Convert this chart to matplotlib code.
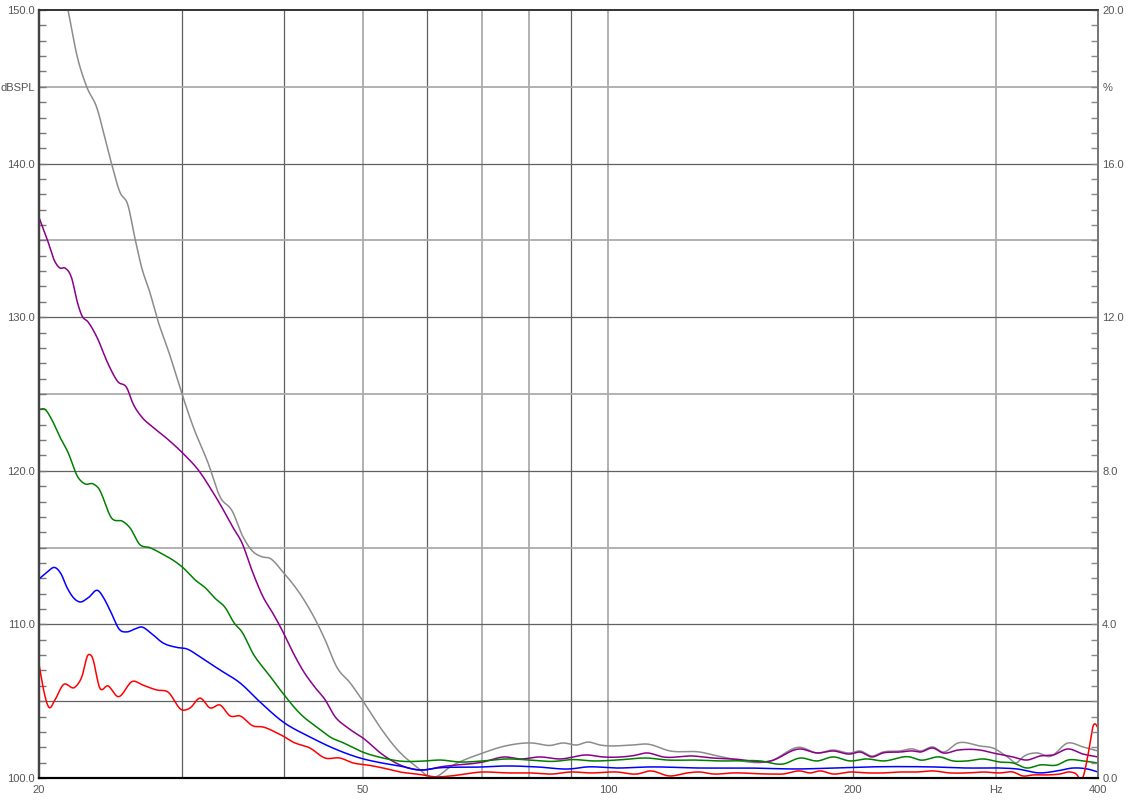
import numpy as np
import matplotlib
matplotlib.use("Agg")
import matplotlib.pyplot as plt
from matplotlib.ticker import FixedLocator, NullFormatter

# ---------------- data ----------------
gray_f = [20.0, 21.71, 22.26, 22.89, 23.56, 24.10, 24.58, 25.14, 25.72, 26.23, 26.75, 27.36, 27.91,
          28.97, 29.97, 30.92, 32.27, 33.38, 34.53, 35.62, 36.54, 37.59, 38.44, 39.89, 41.84, 43.91,
          44.92, 46.46, 48.21, 50.02, 52.49, 55.21, 58.43, 60.1, 61.31, 63.98, 70.20, 74.72, 80.66,
          84.88, 88.04, 91.6, 94.5, 97.77, 107.3, 111.7, 119.2, 129.7, 137.3, 158.2, 172.2, 180.7,
          189.0, 198.3, 204.0, 211.0, 217.7, 228.4, 237.0, 241.7, 250.8, 258.0, 269.2, 286.5, 297.2,
          309.2, 318.0, 323.5, 336.6, 349.3, 367.5, 383.4, 400.0]
gray_db = [157.5, 150.0, 147.07, 145.0, 143.62, 141.67, 139.91, 138.15, 137.3, 135.16, 133.2, 131.64,
           130.0, 127.5, 125.0, 122.9, 120.5, 118.3, 117.4, 115.7, 114.8, 114.4, 114.3, 113.4, 112.0,
           110.1, 109.0, 107.2, 106.2, 105.0, 103.3, 101.8, 100.65, 100.13, 100.07, 100.72, 101.63,
           102.08, 102.28, 102.12, 102.28, 102.15, 102.34, 102.15, 102.15, 102.21, 101.76, 101.69,
           101.4, 101.1, 102.0, 101.63, 101.82, 101.63, 101.76, 101.43, 101.69, 101.76, 101.89, 101.76,
           102.02, 101.69, 102.28, 102.08, 101.95, 101.4, 101.0, 101.37, 101.63, 101.4, 102.28, 102.02,
           101.76]

purple_f = [20.0, 20.46, 20.93, 21.22, 21.53, 21.95, 22.26, 22.58, 22.97, 23.56, 24.30, 25.0, 25.64,
            26.08, 26.75, 27.59, 28.72, 29.97, 31.54, 32.45, 33.57, 34.63, 35.52, 36.54, 37.69, 38.78,
            39.89, 40.91, 42.20, 43.66, 44.92, 46.20, 47.80, 50.02, 52.94, 55.53, 59.26, 62.18,
            70.20, 74.72, 77.96, 82.51, 87.30, 94.23, 98.60, 107.3, 111.7, 116.9, 127.3, 134.6, 142.5,
            158.2, 172.2, 180.7, 189.0, 198.3, 204.0, 211.0, 217.7, 228.4, 237.0, 241.7, 250.8, 258.0,
            269.2, 286.5, 297.2, 314.4, 327.2, 339.4, 352.3, 367.5, 383.4, 400.0]
purple_db = [136.5, 135.1, 133.6, 133.2, 133.2, 132.5, 131.1, 130.1, 129.7, 128.7, 127.0, 125.8, 125.4,
             124.4, 123.5, 122.85, 122.1, 121.2, 119.9, 118.9, 117.6, 116.3, 115.3, 113.5, 111.8, 110.7,
             109.5, 108.3, 107.0, 105.9, 105.1, 104.0, 103.3, 102.6, 101.5, 100.85, 100.52, 100.72,
             101.04, 101.37, 101.24, 101.37, 101.24, 101.5, 101.37, 101.45, 101.63, 101.37, 101.43,
             101.3, 101.24, 101.1, 101.89, 101.63, 101.76, 101.56, 101.69, 101.37, 101.63, 101.69,
             101.76, 101.69, 101.95, 101.63, 101.82, 101.82, 101.63, 101.37, 101.17, 101.43, 101.5,
             101.89, 101.56, 101.37]

green_f = [20.0, 20.34, 20.75, 21.22, 21.71, 22.32, 22.77, 23.30, 23.64, 24.58, 25.36, 25.86, 26.60,
           27.36, 28.31, 29.38, 30.05, 31.10, 31.99, 32.91, 33.86, 34.73, 35.52, 36.64, 38.23, 39.89,
           41.84, 43.91, 45.81, 47.26, 48.21, 49.60, 52.94, 55.53, 59.26, 62.18, 65.82, 70.20, 75.15,
           80.21, 85.60, 90.57, 95.86, 102.6, 111.7, 118.2, 127.3, 137.3, 153.8, 164.1, 172.2, 180.7,
           189.0, 198.3, 208.0, 217.7, 235.0, 241.7, 255.8, 265.4, 276.1, 288.9, 303.1, 314.4, 327.2,
           339.4, 356.3, 367.5, 383.4, 400.0]
green_db = [124.0, 124.0, 123.3, 122.2, 121.2, 119.6, 119.15, 119.15, 118.9, 116.9, 116.7, 116.3, 115.2,
            115.0, 114.6, 114.1, 113.7, 112.9, 112.4, 111.7, 111.1, 110.1, 109.5, 108.1, 106.8, 105.5,
            104.2, 103.3, 102.6, 102.3, 102.08, 101.76, 101.3, 101.1, 101.1, 101.17, 101.04, 101.11,
            101.24, 101.17, 101.08, 101.2, 101.11, 101.17, 101.3, 101.17, 101.17, 101.11, 101.11,
            100.91, 101.3, 101.11, 101.37, 101.11, 101.24, 101.11, 101.37, 101.17, 101.37, 101.11,
            101.11, 101.24, 101.04, 100.98, 100.65, 100.85, 100.85, 101.17, 101.11, 100.98]

blue_f = [20.0, 20.46, 20.93, 21.28, 21.65, 22.08, 22.45, 22.97, 23.64, 24.03, 24.44, 25.14, 25.64,
          26.23, 26.75, 27.36, 28.39, 29.55, 30.40, 31.54, 33.38, 35.32, 37.37, 39.89, 43.05, 45.94,
          49.60, 52.49, 55.53, 58.76, 61.65, 70.20, 74.30, 81.83, 89.80, 94.23, 102.6, 112.6, 129.7,
          148.2, 172.2, 189.0, 208.0, 250.8, 276.1, 303.1, 318.0, 339.4, 356.3, 372.7, 387.8, 400.0]
blue_db = [112.96, 113.4, 113.7, 113.3, 112.4, 111.7, 111.46, 111.72, 112.2, 111.7, 110.94, 109.64,
           109.51, 109.7, 109.83, 109.5, 108.8, 108.5, 108.4, 107.88, 107.03, 106.19, 104.95, 103.65,
           102.67, 101.95, 101.3, 101.0, 100.78, 100.52, 100.65, 100.72, 100.78, 100.72, 100.59,
           100.72, 100.65, 100.72, 100.65, 100.65, 100.59, 100.65, 100.72, 100.72, 100.65, 100.65,
           100.59, 100.33, 100.46, 100.65, 100.59, 100.39]

red_f = [20.0, 20.23, 20.57, 20.93, 21.40, 22.15, 22.58, 22.97, 23.23, 23.76, 24.30, 25.0, 26.08,
         26.83, 27.91, 28.80, 29.97, 30.66, 31.54, 32.45, 33.38, 34.34, 35.32, 36.64, 37.69, 39.22,
         39.89, 41.02, 43.05, 44.92, 46.86, 48.62, 50.59, 52.94, 55.53, 58.26, 61.65, 63.98, 70.20,
         75.15, 80.21, 85.60, 89.80, 95.04, 102.6, 108.6, 112.6, 119.2, 125.1, 129.7, 134.6, 142.5,
         156.8, 164.1, 172.2, 177.1, 182.2, 189.0, 198.3, 208.0, 217.7, 228.4, 239.7, 250.8, 263.1,
         276.1, 288.9, 303.1, 314.4, 323.5, 332.8, 346.4, 359.3, 369.6, 377.0, 380.2, 383.4, 387.8,
         392.2, 394.5, 396.7, 400.0]
red_db = [107.4, 105.9, 104.6, 105.1, 106.05, 105.92, 106.6, 108.0, 107.9, 105.85, 106.0, 105.3, 106.3,
          106.05, 105.73, 105.6, 104.43, 104.56, 105.2, 104.56, 104.75, 104.04, 104.04, 103.39, 103.32,
          102.93, 102.73, 102.34, 101.95, 101.3, 101.3, 100.98, 100.85, 100.65, 100.39, 100.26, 100.07,
          100.13, 100.39, 100.33, 100.33, 100.26, 100.39, 100.33, 100.39, 100.26, 100.46, 100.13,
          100.33, 100.39, 100.26, 100.33, 100.26, 100.26, 100.46, 100.33, 100.46, 100.26, 100.39,
          100.33, 100.33, 100.39, 100.39, 100.46, 100.33, 100.33, 100.39, 100.33, 100.39, 100.13,
          100.20, 100.20, 100.26, 100.39, 100.2, 99.93, 100.07, 101.17, 102.67, 103.39, 103.52, 103.26]

x_ticks = [20, 50, 100, 200, 300, 400]
x_labels = ["20", "50", "100", "200", "Hz", "400"]
y_ticks = [100, 110, 120, 130, 140, 145, 150]
y_labels = ["100.0", "110.0", "120.0", "130.0", "140.0", "dBSPL", "150.0"]
r_ticks = [0, 4, 8, 12, 16, 18, 20]
r_labels = ["0.0", "4.0", "8.0", "12.0", "16.0", "%", "20.0"]

series = [
    (gray_f, gray_db, "#8c8c8c"),
    (purple_f, purple_db, "#8b008b"),
    (green_f, green_db, "#008000"),
    (blue_f, blue_db, "#0000ff"),
    (red_f, red_db, "#ff0000"),
]


def smooth(f, v, n=16):
    """Cubic Hermite rendering of the read points in log-frequency space."""
    x = np.log10(np.asarray(f, float))
    y = np.asarray(v, float)
    m = np.gradient(y, x)
    xs, ys = [], []
    t = np.linspace(0, 1, n, endpoint=False)
    h00 = 2 * t**3 - 3 * t**2 + 1
    h10 = t**3 - 2 * t**2 + t
    h01 = -2 * t**3 + 3 * t**2
    h11 = t**3 - t**2
    for i in range(len(x) - 1):
        h = x[i + 1] - x[i]
        xs.append(x[i] + t * h)
        ys.append(h00 * y[i] + h10 * h * m[i] + h01 * y[i + 1] + h11 * h * m[i + 1])
    xs.append([x[-1]])
    ys.append([y[-1]])
    return 10 ** np.concatenate(xs), np.concatenate(ys)


W, H = 1127, 800
fig = plt.figure(figsize=(W / 100, H / 100), dpi=100)
fig.patch.set_facecolor("white")
L, R, T, B = 39, 1098, 10, 778
ax = fig.add_axes([L / W, 1 - B / H, (R - L) / W, (B - T) / H])
ax.set_xscale("log")
ax.set_xlim(20, 400)
ax.set_ylim(100, 150)

# grid lines (alternating dark / light like the reference)
dark, light = "#606060", "#ababab"
for fx, c in [(30, dark), (40, dark), (50, light), (60, dark), (70, light), (80, light),
              (90, dark), (100, light), (200, dark), (300, light)]:
    ax.axvline(fx, color=c, lw=1.3 if c == light else 0.9, zorder=1)
for hy, c in [(105, dark), (110, dark), (115, light), (120, dark), (125, light), (130, dark),
              (135, light), (140, dark), (145, light)]:
    ax.axhline(hy, color=c, lw=1.3 if c == light else 0.9, zorder=1)

for f, v, c in series:
    xs, ys = smooth(f, v)
    ax.plot(xs, ys, color=c, lw=1.1, zorder=3, solid_joinstyle="round")

tick_color = "#555555"
ax.xaxis.set_major_locator(FixedLocator(x_ticks))
ax.set_xticklabels(x_labels)
ax.xaxis.set_minor_locator(FixedLocator([]))
ax.xaxis.set_minor_formatter(NullFormatter())
ax.tick_params(axis="x", which="both", length=0, pad=5, labelsize=8, labelcolor=tick_color)

ax.set_yticks(y_ticks)
ax.set_yticklabels(y_labels)
ax.yaxis.set_minor_locator(FixedLocator(np.arange(100, 151, 1)))
ax.tick_params(axis="y", which="major", direction="in", length=5, width=1, color="#777777",
               pad=3, labelsize=8, labelcolor=tick_color)
ax.tick_params(axis="y", which="minor", direction="in", length=5, width=1, color="#777777")

ax2 = ax.twinx()
ax2.set_ylim(0, 20)
ax2.set_yticks(r_ticks)
ax2.set_yticklabels(r_labels)
ax2.yaxis.set_minor_locator(FixedLocator(np.arange(0, 20.01, 0.4)))
ax2.tick_params(axis="y", which="major", direction="in", length=5, width=1, color="#888888",
                pad=3, labelsize=8, labelcolor=tick_color)
ax2.tick_params(axis="y", which="minor", direction="in", length=5, width=1, color="#888888")

for a in (ax, ax2):
    a.spines["bottom"].set_color("#000000")
    a.spines["bottom"].set_linewidth(1.5)
    a.spines["top"].set_color("#333333")
    a.spines["top"].set_linewidth(1.2)
    a.spines["left"].set_color("#444444")
    a.spines["left"].set_linewidth(1.6)
    a.spines["right"].set_color("#777777")
    a.spines["right"].set_linewidth(1.3)

for lab in ax.get_yticklabels() + ax2.get_yticklabels() + ax.get_xticklabels():
    lab.set_fontfamily("Liberation Sans")

fig.savefig("out.png", dpi=100, facecolor="white")
